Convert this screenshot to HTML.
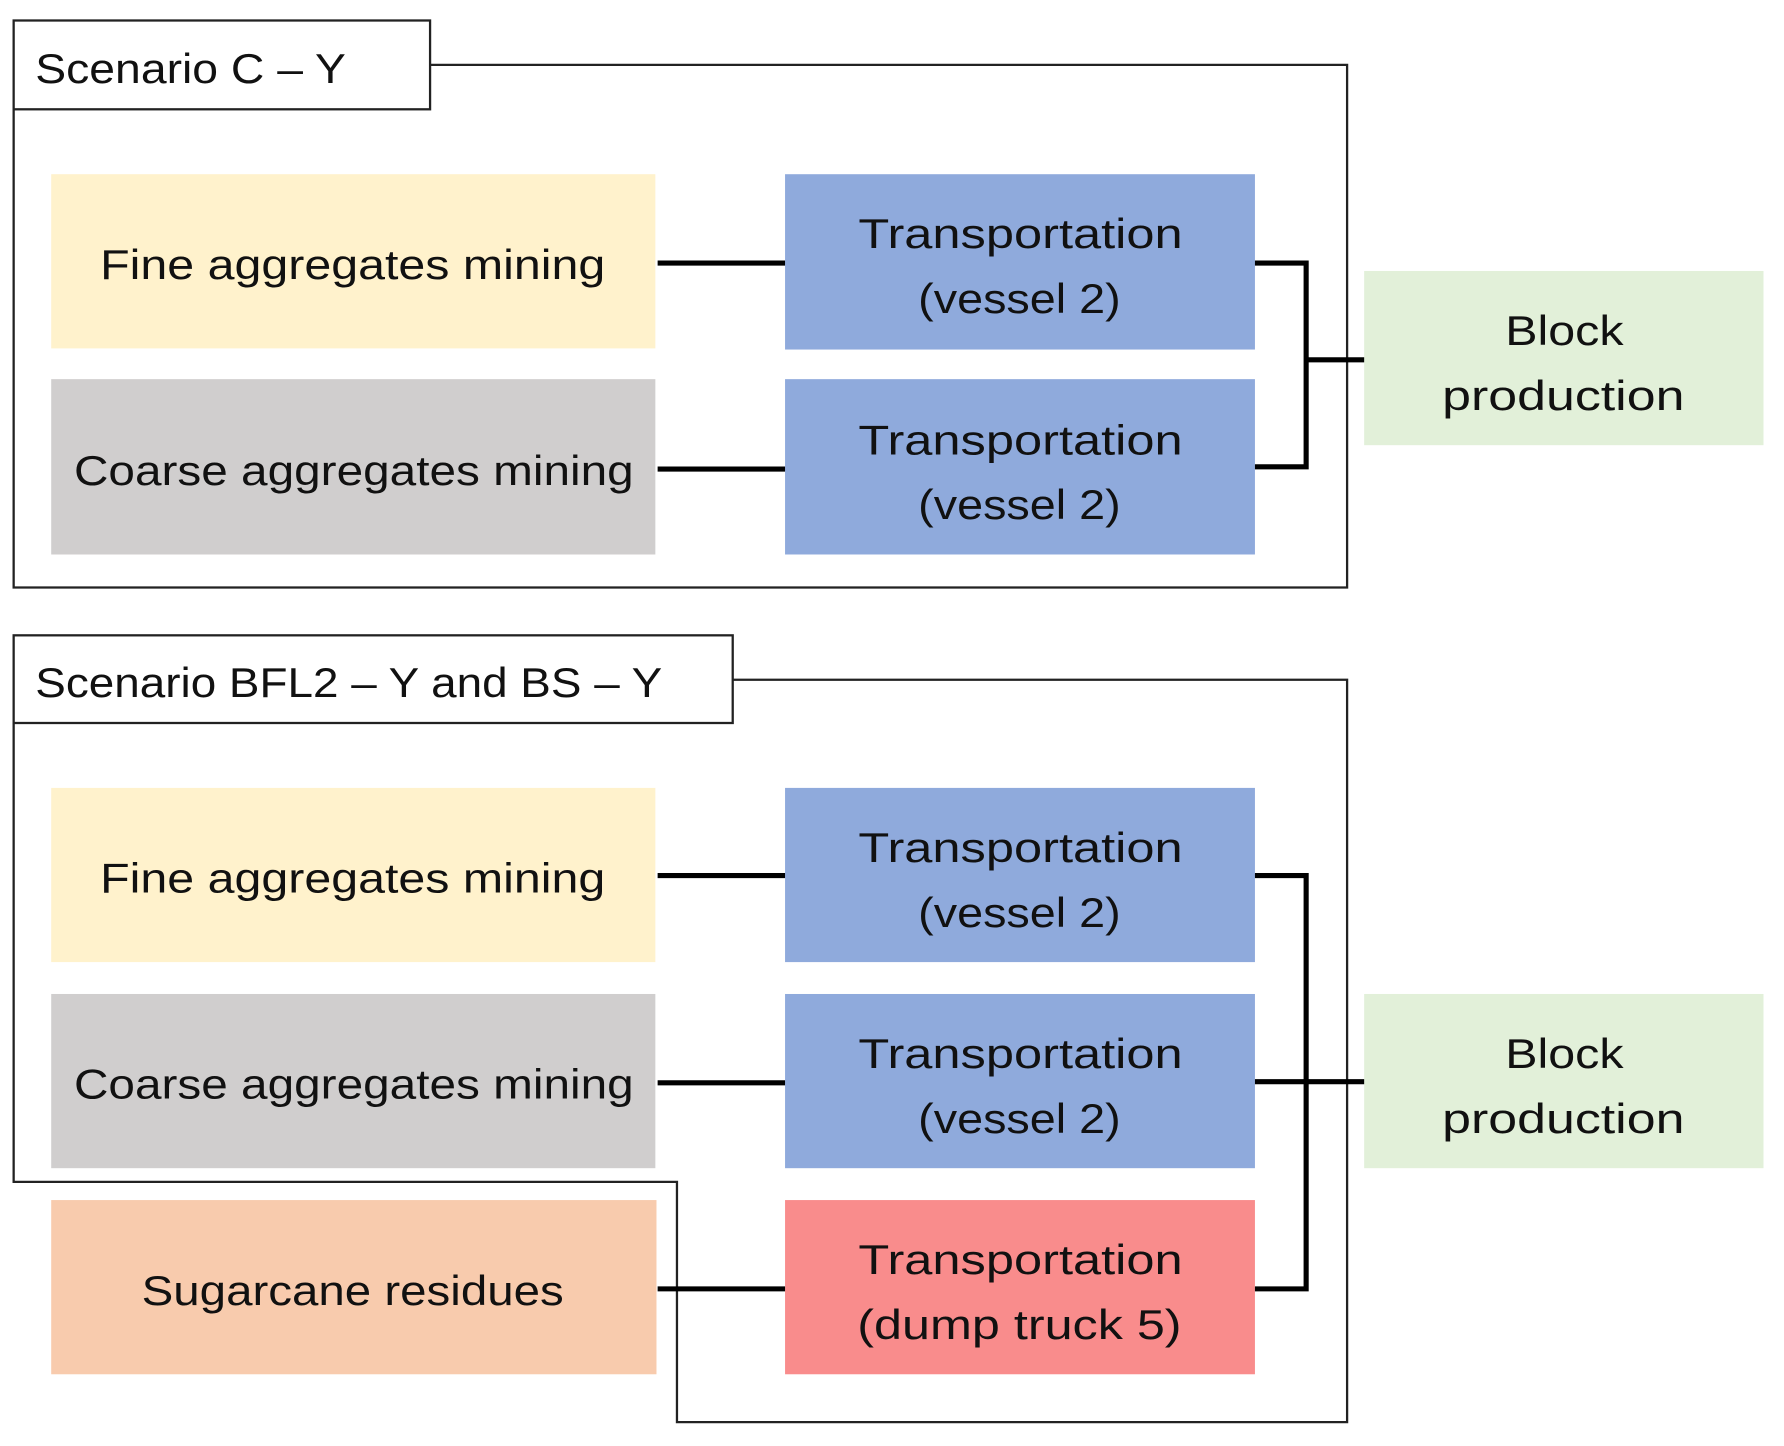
<!DOCTYPE html>
<html><head><meta charset="utf-8"><style>
html,body{margin:0;padding:0;background:#fff;}
svg{display:block;}
text{font-family:"Liberation Sans",sans-serif;font-size:37px;fill:#111;}
</style></head><body>
<svg width="1784" height="1446" viewBox="0 0 1568 1270" preserveAspectRatio="none" xmlns="http://www.w3.org/2000/svg">
<polyline points="378,57 1184,57 1184,516 12,516 12,96" fill="none" stroke="#222" stroke-width="2"/>
<rect x="12" y="18" width="366" height="78" fill="#fff" stroke="#222" stroke-width="2"/>
<text x="31" y="73" textLength="273" lengthAdjust="spacingAndGlyphs">Scenario C – Y</text>

<rect x="45" y="153" width="531" height="153" fill="#FFF2CC"/>
<rect x="45" y="333" width="531" height="154" fill="#D0CECE"/>
<rect x="690" y="153" width="413" height="154" fill="#8FAADC"/>
<rect x="690" y="333" width="413" height="154" fill="#8FAADC"/>
<rect x="1199" y="238" width="351" height="153" fill="#E2F0D9"/>

<text x="310" y="245" text-anchor="middle" textLength="444" lengthAdjust="spacingAndGlyphs">Fine aggregates mining</text>
<text x="311" y="426" text-anchor="middle" textLength="492" lengthAdjust="spacingAndGlyphs">Coarse aggregates mining</text>
<text x="897" y="218" text-anchor="middle" textLength="285" lengthAdjust="spacingAndGlyphs">Transportation</text>
<text x="896" y="275" text-anchor="middle" textLength="178" lengthAdjust="spacingAndGlyphs">(vessel 2)</text>
<text x="897" y="399" text-anchor="middle" textLength="285" lengthAdjust="spacingAndGlyphs">Transportation</text>
<text x="896" y="456" text-anchor="middle" textLength="178" lengthAdjust="spacingAndGlyphs">(vessel 2)</text>
<text x="1375" y="303" text-anchor="middle" textLength="104" lengthAdjust="spacingAndGlyphs">Block</text>
<text x="1374" y="360" text-anchor="middle" textLength="213" lengthAdjust="spacingAndGlyphs">production</text>

<g stroke="#000" stroke-width="4.5" fill="none">
<line x1="578" y1="231" x2="690" y2="231"/>
<line x1="578" y1="412" x2="690" y2="412"/>
<polyline points="1103,231 1148,231 1148,410 1103,410"/>
<line x1="1148" y1="316" x2="1199" y2="316"/>
</g>

<polyline points="644,597 1184,597 1184,1249 595,1249 595,1038 12,1038 12,635" fill="none" stroke="#222" stroke-width="2"/>
<rect x="12" y="558" width="632" height="77" fill="#fff" stroke="#222" stroke-width="2"/>
<text x="31" y="612" textLength="551" lengthAdjust="spacingAndGlyphs">Scenario BFL2 – Y and BS – Y</text>

<rect x="45" y="692" width="531" height="153" fill="#FFF2CC"/>
<rect x="45" y="873" width="531" height="153" fill="#D0CECE"/>
<rect x="45" y="1054" width="532" height="153" fill="#F8CBAD"/>
<rect x="690" y="692" width="413" height="153" fill="#8FAADC"/>
<rect x="690" y="873" width="413" height="153" fill="#8FAADC"/>
<rect x="690" y="1054" width="413" height="153" fill="#F98C8C"/>
<rect x="1199" y="873" width="351" height="153" fill="#E2F0D9"/>

<text x="310" y="784" text-anchor="middle" textLength="444" lengthAdjust="spacingAndGlyphs">Fine aggregates mining</text>
<text x="311" y="965" text-anchor="middle" textLength="492" lengthAdjust="spacingAndGlyphs">Coarse aggregates mining</text>
<text x="310" y="1146" text-anchor="middle" textLength="371" lengthAdjust="spacingAndGlyphs">Sugarcane residues</text>
<text x="897" y="757" text-anchor="middle" textLength="285" lengthAdjust="spacingAndGlyphs">Transportation</text>
<text x="896" y="814" text-anchor="middle" textLength="178" lengthAdjust="spacingAndGlyphs">(vessel 2)</text>
<text x="897" y="938" text-anchor="middle" textLength="285" lengthAdjust="spacingAndGlyphs">Transportation</text>
<text x="896" y="995" text-anchor="middle" textLength="178" lengthAdjust="spacingAndGlyphs">(vessel 2)</text>
<text x="897" y="1119" text-anchor="middle" textLength="285" lengthAdjust="spacingAndGlyphs">Transportation</text>
<text x="896" y="1176" text-anchor="middle" textLength="285" lengthAdjust="spacingAndGlyphs">(dump truck 5)</text>
<text x="1375" y="938" text-anchor="middle" textLength="104" lengthAdjust="spacingAndGlyphs">Block</text>
<text x="1374" y="995" text-anchor="middle" textLength="213" lengthAdjust="spacingAndGlyphs">production</text>

<g stroke="#000" stroke-width="4.5" fill="none">
<line x1="578" y1="769" x2="690" y2="769"/>
<line x1="578" y1="951" x2="690" y2="951"/>
<line x1="578" y1="1132" x2="690" y2="1132"/>
<polyline points="1103,769 1148,769 1148,1132 1103,1132"/>
<line x1="1103" y1="950" x2="1199" y2="950"/>
</g>
</svg>
</body></html>
